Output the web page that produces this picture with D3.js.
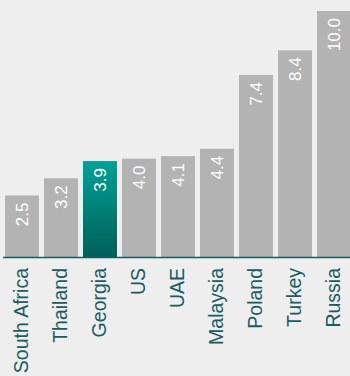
<!DOCTYPE html>
<html>
<head>
<meta charset="utf-8">
<script src="https://cdn.jsdelivr.net/npm/d3@7"></script>
<style>
  html, body { margin: 0; padding: 0; background: #eeeeee; }
  svg { display: block; font-family: "Liberation Sans", Arial, sans-serif; }
</style>
</head>
<body>
<div id="chart"></div>
<script>
var countries = ["South Africa", "Thailand", "Georgia", "US", "UAE", "Malaysia", "Poland", "Turkey", "Russia"];
var values = [2.5, 3.2, 3.9, 4.0, 4.1, 4.4, 7.4, 8.4, 10.0];
var highlight = "Georgia";

var width = 350, height = 376, baseY = 257;

var svg = d3.select("#chart").append("svg")
  .attr("width", width)
  .attr("height", height);

// gradient for the highlighted bar
var grad = svg.append("defs").append("linearGradient")
  .attr("id", "hl")
  .attr("x1", 0).attr("y1", 0).attr("x2", 0).attr("y2", 1);
grad.append("stop").attr("offset", "0%").attr("stop-color", "#00a297");
grad.append("stop").attr("offset", "100%").attr("stop-color", "#005f58");

var x = d3.scaleBand()
  .domain(countries)
  .range([5, 351])
  .paddingInner(0.128)
  .paddingOuter(0);

var y = d3.scaleLinear()
  .domain([0, 10])
  .range([baseY, 11]);

var data = countries.map(function(c, i){ return {name: c, value: values[i]}; });

svg.selectAll(".bar")
  .data(data)
  .enter().append("rect")
  .attr("class", "bar")
  .attr("x", function(d){ return x(d.name); })
  .attr("y", function(d){ return y(d.value); })
  .attr("width", x.bandwidth())
  .attr("height", function(d){ return baseY - y(d.value); })
  .attr("fill", function(d){ return d.name === highlight ? "url(#hl)" : "#b3b3b3"; });

// value labels inside the bars
svg.selectAll(".val")
  .data(data)
  .enter().append("text")
  .attr("class", "val")
  .attr("transform", function(d){
    return "translate(" + (x(d.name) + x.bandwidth()/2) + "," + (y(d.value) + 7) + ")rotate(-90)";
  })
  .attr("text-anchor", "end")
  .attr("dy", "0.35em")
  .attr("fill", "#ffffff")
  .style("font-size", "17px")
  .text(function(d){ return d.value.toFixed(1); });

// baseline
svg.append("line")
  .attr("x1", 3).attr("x2", 350)
  .attr("y1", baseY + 0.5).attr("y2", baseY + 0.5)
  .attr("stroke", "#1b5c62")
  .attr("stroke-width", 1.5);

// category labels
svg.selectAll(".cat")
  .data(countries)
  .enter().append("text")
  .attr("class", "cat")
  .attr("transform", function(d){
    return "translate(" + (x(d) + x.bandwidth()/2) + "," + (baseY + 11) + ")rotate(-90)";
  })
  .attr("text-anchor", "end")
  .attr("dy", "0.3em")
  .attr("fill", "#1b5c62")
  .style("font-size", "19.5px")
  .text(function(d){ return d; });
</script>
</body>
</html>
